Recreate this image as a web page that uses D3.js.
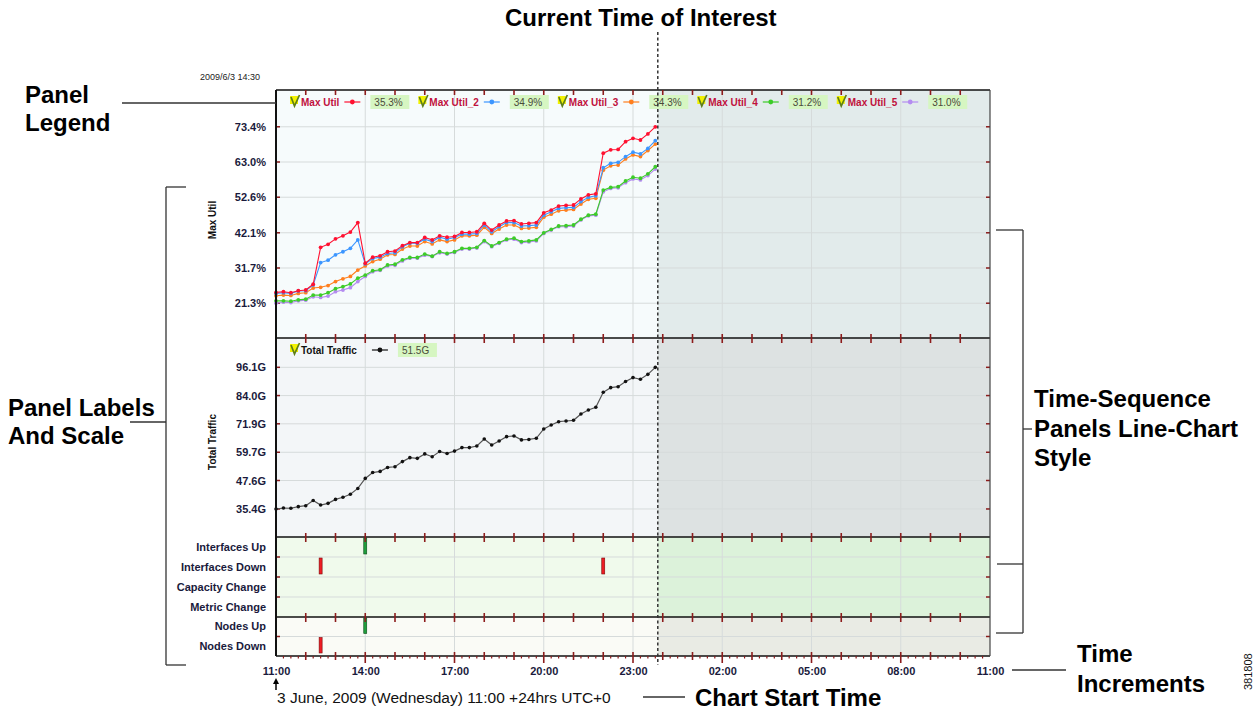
<!DOCTYPE html>
<html>
<head>
<meta charset="utf-8">
<script src="https://cdn.jsdelivr.net/npm/d3@7"></script>
<style>
  body { margin: 0; background: #fff; }
  svg { display: block; font-family: "Liberation Sans", Arial, sans-serif; }
</style>
</head>
<body>
<svg id="chart" width="1259" height="714"></svg>
<script>
// ==================== data ====================
const seriesNames = ['Max Util', 'Max Util_2', 'Max Util_3', 'Max Util_4', 'Max Util_5'];
const seriesColors = ['#ff1030', '#3c96ff', '#ff7f1e', '#3ccc28', '#b48cf0'];
const legendValues = ['35.3%', '34.9%', '34.3%', '31.2%', '31.0%'];

// one sample every 15 minutes from 11:00
const maxUtil = [24.5,24.7,24.4,25.0,25.2,26.9,37.8,38.7,40.3,41.2,42.3,45.1,33.1,34.9,35.3,36.5,36.7,38.3,39.2,39.2,40.7,40.0,41.2,40.8,41.0,42.2,42.2,42.4,44.9,42.9,44.4,45.6,45.7,44.7,44.9,45.1,48.0,48.8,50.0,50.2,50.3,52.1,53.3,53.6,65.6,66.6,66.7,69.0,70.0,69.5,71.3,73.4];
const maxUtil2 = [24.2,24.4,24.2,24.9,25.0,26.7,33.3,34.0,35.6,36.5,37.5,40.0,32.9,34.5,34.9,36.0,36.2,38.0,39.0,39.0,40.2,39.5,40.8,40.2,40.7,41.7,41.7,41.9,44.4,42.4,43.9,45.1,45.1,44.1,44.2,44.4,47.3,48.3,49.3,49.5,49.6,51.3,52.6,53.0,61.3,62.6,62.9,64.6,65.9,65.4,67.0,69.3];
const maxUtil3 = [23.5,23.7,23.6,24.2,24.4,25.8,26.0,26.5,27.7,28.5,29.2,31.1,32.3,33.6,34.3,35.6,35.7,37.3,38.2,38.2,39.5,38.8,40.0,39.5,40.0,41.2,41.2,41.4,43.7,41.9,43.2,44.4,44.4,43.4,43.5,43.7,46.7,47.6,48.6,48.8,49.0,50.6,52.0,52.3,60.6,61.9,62.1,63.9,65.1,64.6,66.4,68.3];
const maxUtil4 = [22.0,22.0,21.9,22.3,22.5,23.7,23.7,24.4,25.6,26.2,27.0,28.7,29.6,30.9,31.2,32.6,32.8,34.1,34.8,34.8,35.8,35.2,36.5,36.0,36.5,37.5,37.5,37.8,39.8,38.2,39.2,40.2,40.5,39.5,39.7,40.0,42.1,43.1,44.1,44.2,44.4,46.1,47.3,47.6,54.7,55.5,55.7,57.4,58.5,58.2,59.5,61.6];
const maxUtil5 = [21.3,21.6,21.5,22.0,22.2,23.2,23.0,23.4,24.7,25.2,25.9,27.7,29.2,30.6,31.0,32.3,32.5,33.8,34.6,34.6,35.5,35.1,36.2,35.8,36.3,37.3,37.3,37.6,39.5,38.0,39.0,40.0,40.2,39.2,39.4,39.7,41.9,42.9,43.9,43.9,44.1,45.9,47.1,47.3,54.2,55.2,55.4,56.9,58.0,57.7,59.0,60.9];
const totalTraffic = [35.4,35.8,35.7,36.4,36.8,39.0,37.1,37.8,39.5,40.4,41.7,44.2,48.5,51.0,51.5,53.2,53.5,55.7,57.4,57.1,59.0,57.8,60.0,59.2,60.2,61.7,61.7,62.4,65.4,62.8,64.5,66.4,66.7,65.0,65.2,65.7,69.7,71.4,72.8,73.1,73.4,76.1,77.8,79.0,85.4,87.4,87.8,90.0,91.7,91.0,93.1,96.1];

const utilTicks = [21.3, 31.7, 42.1, 52.6, 63.0, 73.4];
const trafficTicks = [35.4, 47.6, 59.7, 71.9, 84.0, 96.1];

const eventRows = ['Interfaces Up', 'Interfaces Down', 'Capacity Change', 'Metric Change'];
const nodeRows = ['Nodes Up', 'Nodes Down'];
// [row, time]
const eventMarks = [['Interfaces Up', '14:00'], ['Interfaces Down', '12:30'], ['Interfaces Down', '22:00']];
const nodeMarks = [['Nodes Up', '14:00'], ['Nodes Down', '12:30']];
const upRows = ['Interfaces Up', 'Nodes Up'];

const chartStart = new Date(Date.UTC(2009, 5, 3, 11, 0));
const chartEnd = new Date(Date.UTC(2009, 5, 4, 11, 0));
const currentTime = new Date(Date.UTC(2009, 5, 3, 23, 50));
const times = maxUtil.map((_, i) => d3.utcMinute.offset(chartStart, 15 * i));
const parseT = s => { const [h, m] = s.split(':').map(Number); return new Date(Date.UTC(2009, 5, 3, h, m)); };

// ==================== layout ====================
const svg = d3.select('#chart');
const X0 = 276, X1 = 990;
const P1 = [90, 338], P2 = [338, 537], P3 = [537, 617], P4 = [617, 656];
const tickRed = '#8c1c1c';
const navy = '#1a1a3c';
const gridCol = '#d6dbdb';

const x = d3.scaleTime().domain([chartStart, chartEnd]).range([X0, X1]);
const yUtil = d3.scaleLinear().domain([10.88, 83.82]).range([338.5, 91.5]);
const yTraffic = d3.scaleLinear().domain([23.26, 108.24]).range([537.3, 339]);
const yEvents = d3.scaleBand().domain(eventRows).range(P3);
const yNodes = d3.scaleBand().domain(nodeRows).range(P4);

const xNow = x(currentTime);

// hour marks, counted from the chart start (labels every 3 hours)
const allHours = d3.utcHour.range(chartStart, d3.utcHour.offset(chartEnd, 1));
const labelHours = allHours.filter((d, i) => i % 3 === 0);
const innerHours = allHours.filter(d => d > chartStart && d < chartEnd);
const innerLabelHours = labelHours.filter(d => d > chartStart && d < chartEnd);

// ==================== backgrounds ====================
const bgs = [
  [P1, '#f6fbfc', '#e2ebeb'],
  [P2, '#f3f6f8', '#dde2e2'],
  [P3, '#f0faec', '#dcf2da'],
  [P4, '#fafbf6', '#e9ebe4']
];
const bg = svg.append('g');
bgs.forEach(([p, c1, c2]) => {
  bg.append('rect').attr('x', X0).attr('y', p[0]).attr('width', xNow - X0).attr('height', p[1] - p[0]).attr('fill', c1);
  bg.append('rect').attr('x', xNow).attr('y', p[0]).attr('width', X1 - xNow).attr('height', p[1] - p[0]).attr('fill', c2);
});

// ==================== grids ====================
const grid = svg.append('g').attr('stroke', gridCol).attr('stroke-width', 1);
grid.selectAll('.vg').data(innerLabelHours).enter().append('line')
  .attr('x1', d => x(d)).attr('x2', d => x(d)).attr('y1', P1[0]).attr('y2', P4[1]);

const hLines = [
  ...utilTicks.map(v => yUtil(v)),
  ...trafficTicks.map(v => yTraffic(v)),
  ...eventRows.slice(1).map(r => yEvents(r)),
  ...nodeRows.slice(1).map(r => yNodes(r))
];
grid.selectAll('.hg').data(hLines).enter().append('line')
  .attr('x1', X0).attr('x2', X1).attr('y1', d => d).attr('y2', d => d);

// side ticks (dark red) at every horizontal gridline
const side = svg.append('g').attr('stroke', tickRed).attr('stroke-width', 1.5);
side.selectAll('.lt').data(hLines).enter().append('line')
  .attr('x1', X0).attr('x2', X0 + 4).attr('y1', d => d).attr('y2', d => d);
side.selectAll('.rt').data(hLines).enter().append('line')
  .attr('x1', X1 - 4).attr('x2', X1).attr('y1', d => d).attr('y2', d => d);

// ==================== series ====================
const utilSeries = [maxUtil, maxUtil2, maxUtil3, maxUtil4, maxUtil5];
const lineUtil = d3.line().x((d, i) => x(times[i])).y(d => yUtil(d));
const plot = svg.append('g');
utilSeries.slice().reverse().forEach((vals, ri) => {
  const col = seriesColors[utilSeries.length - 1 - ri];
  plot.append('path').datum(vals).attr('d', lineUtil)
    .attr('fill', 'none').attr('stroke', col).attr('stroke-width', 1.1);
  plot.append('g').selectAll('circle').data(vals).enter().append('circle')
    .attr('cx', (d, i) => x(times[i])).attr('cy', d => yUtil(d)).attr('r', 1.9).attr('fill', col);
});

const lineTraffic = d3.line().x((d, i) => x(times[i])).y(d => yTraffic(d));
plot.append('path').datum(totalTraffic).attr('d', lineTraffic)
  .attr('fill', 'none').attr('stroke', '#555').attr('stroke-width', 1.2);
plot.append('g').selectAll('circle').data(totalTraffic).enter().append('circle')
  .attr('cx', (d, i) => x(times[i])).attr('cy', d => yTraffic(d)).attr('r', 1.8).attr('fill', '#111');

// event bars
function drawMarks(marks, band) {
  plot.append('g').selectAll('rect').data(marks).enter().append('rect')
    .attr('x', d => x(parseT(d[1])) - 1.5)
    .attr('y', d => band(d[0]) + 1)
    .attr('width', 3)
    .attr('height', band.bandwidth() - 4)
    .attr('fill', d => upRows.includes(d[0]) ? '#1f9e3c' : '#ee1c24')
    .attr('stroke', d => upRows.includes(d[0]) ? '#0c4a18' : '#7a0a0a')
    .attr('stroke-width', 0.6);
}
drawMarks(eventMarks, yEvents);
drawMarks(nodeMarks, yNodes);

// ==================== frame & hour ticks ====================
const frame = svg.append('g');
[P1[0], P2[0], P3[0], P4[0], P4[1]].forEach(yy => {
  frame.append('line').attr('x1', X0).attr('x2', X1).attr('y1', yy).attr('y2', yy)
    .attr('stroke', '#111').attr('stroke-width', 1.5);
});
frame.append('line').attr('x1', X0).attr('x2', X0).attr('y1', P1[0]).attr('y2', P4[1])
  .attr('stroke', '#111').attr('stroke-width', 2);
frame.append('line').attr('x1', X1).attr('x2', X1).attr('y1', P1[0]).attr('y2', P4[1])
  .attr('stroke', '#444').attr('stroke-width', 1.2);

const hticks = svg.append('g').attr('stroke', tickRed).attr('stroke-width', 1.6);
[[P1[0], 0, 5], [P2[0], -4, 5], [P3[0], -4, 5], [P4[0], -4, 5]].forEach(([yy, a, b]) => {
  hticks.selectAll(null).data(innerHours).enter().append('line')
    .attr('x1', d => x(d)).attr('x2', d => x(d)).attr('y1', yy + a).attr('y2', yy + b);
});

// bottom time axis: quarter-hour minor ticks, hourly ticks, longer ticks at labels
const quarters = d3.utcMinute.every(15).range(chartStart, chartEnd).filter(d => d > chartStart);
const isLabelHour = d => labelHours.some(h => +h === +d);
svg.append('g').selectAll('line').data(quarters).enter().append('line')
  .attr('x1', d => x(d)).attr('x2', d => x(d))
  .attr('y1', d => d.getUTCMinutes() === 0 ? P4[1] - 4 : P4[1])
  .attr('y2', d => d.getUTCMinutes() === 0 ? (isLabelHour(d) ? P4[1] + 7 : P4[1] + 4) : P4[1] + 2.5)
  .attr('stroke', tickRed).attr('stroke-width', d => d.getUTCMinutes() === 0 ? 1.6 : 1.2);

const xAxis = d3.axisBottom(x).tickValues(labelHours).tickFormat(d3.utcFormat('%H:%M')).tickSize(0).tickPadding(11);
const xa = svg.append('g').attr('transform', `translate(0,${P4[1]})`).call(xAxis);
xa.select('.domain').remove();
xa.selectAll('text').attr('font-family', '"Liberation Sans", Arial, sans-serif')
  .attr('font-size', 11).attr('font-weight', 'bold').attr('fill', navy);

// ==================== y axes ====================
function yAxisText(scale, ticks, fmt) {
  const ax = d3.axisLeft(scale).tickValues(ticks).tickFormat(fmt).tickSize(0).tickPadding(10);
  const g = svg.append('g').attr('transform', `translate(${X0},0)`).call(ax);
  g.select('.domain').remove();
  g.selectAll('text').attr('font-family', '"Liberation Sans", Arial, sans-serif')
    .attr('font-size', 11).attr('font-weight', 'bold').attr('fill', navy);
}
yAxisText(yUtil, utilTicks, d => d3.format('.1f')(d) + '%');
yAxisText(yTraffic, trafficTicks, d => d3.format('.1f')(d) + 'G');

function rowAxis(band) {
  const ax = d3.axisLeft(band).tickSize(0).tickPadding(10);
  const g = svg.append('g').attr('transform', `translate(${X0},0)`).call(ax);
  g.select('.domain').remove();
  g.selectAll('text').attr('font-family', '"Liberation Sans", Arial, sans-serif')
    .attr('font-size', 11).attr('font-weight', 'bold').attr('fill', navy);
}
rowAxis(yEvents);
rowAxis(yNodes);

svg.append('text').attr('transform', 'translate(216,220) rotate(-90)').attr('text-anchor', 'middle')
  .attr('font-size', 10).attr('font-weight', 'bold').attr('fill', '#111').text('Max Util');
svg.append('text').attr('transform', 'translate(216,442) rotate(-90)').attr('text-anchor', 'middle')
  .attr('font-size', 10).attr('font-weight', 'bold').attr('fill', '#111').text('Total Traffic');

svg.append('text').attr('x', 200).attr('y', 80).attr('font-size', 9).attr('fill', '#222').text('2009/6/3 14:30');

// ==================== legends ====================
function drawLegend(items, cy, textColor, gap) {
  const g = svg.append('g');
  let lx = 290;
  items.forEach(it => {
    g.append('rect').attr('x', lx).attr('y', cy - 6).attr('width', 8).attr('height', 8).attr('fill', '#f2f200');
    g.append('path').attr('d', `M${lx + 1},${cy - 5} L${lx + 4.5},${cy + 4} L${lx + 9.5},${cy - 7}`)
      .attr('fill', 'none').attr('stroke', '#5f7f18').attr('stroke-width', 1.7);
    const t = g.append('text').attr('x', lx + 11).attr('y', cy + 4)
      .attr('font-size', 10).attr('font-weight', 'bold').attr('fill', textColor).text(it.name);
    const sx = lx + 11 + t.node().getComputedTextLength() + gap;
    g.append('line').attr('x1', sx).attr('x2', sx + 16).attr('y1', cy).attr('y2', cy)
      .attr('stroke', it.color).attr('stroke-width', 1.2);
    g.append('circle').attr('cx', sx + 8).attr('cy', cy).attr('r', 2.4).attr('fill', it.color);
    const bx = sx + 26;
    g.append('rect').attr('x', bx).attr('y', cy - 7).attr('width', 39).attr('height', 14).attr('fill', '#d6f6c2');
    g.append('text').attr('x', bx + 4).attr('y', cy + 4).attr('font-size', 10).attr('fill', '#4a4a3a').text(it.value);
    lx = bx + 48;
  });
}
drawLegend(seriesNames.map((n, i) => ({ name: n, color: seriesColors[i], value: legendValues[i] })), 102, '#c0103c', 5);
drawLegend([{ name: 'Total Traffic', color: '#111', value: '51.5G' }], 350, '#111', 15);

// ==================== current time line ====================
svg.append('line').attr('x1', xNow).attr('x2', xNow).attr('y1', 32).attr('y2', P4[1] + 9)
  .attr('stroke', '#333').attr('stroke-width', 1.5).attr('stroke-dasharray', '3,2.5');

// ==================== annotations ====================
const ann = svg.append('g').attr('font-family', '"Liberation Sans", Arial, sans-serif')
  .attr('font-weight', 'bold').attr('font-size', 24).attr('fill', '#000');
const bline = (x1, y1, x2, y2) => svg.append('line').attr('x1', x1).attr('y1', y1).attr('x2', x2).attr('y2', y2)
  .attr('stroke', '#333').attr('stroke-width', 1.3);

ann.append('text').attr('x', xNow - 17).attr('y', 26).attr('text-anchor', 'middle').text('Current Time of Interest');

ann.append('text').attr('x', 25).attr('y', 103).text('Panel');
ann.append('text').attr('x', 25).attr('y', 131).text('Legend');
bline(122, 103, X0, 103);

ann.append('text').attr('x', 8).attr('y', 416).text('Panel Labels');
ann.append('text').attr('x', 8).attr('y', 444).text('And Scale');
bline(166, 187, 186, 187);
bline(166, 187, 166, 665);
bline(166, 665, 186, 665);
bline(130, 422, 166, 422);

ann.append('text').attr('x', 1034).attr('y', 407).text('Time-Sequence');
ann.append('text').attr('x', 1034).attr('y', 437).text('Panels Line-Chart');
ann.append('text').attr('x', 1034).attr('y', 466).text('Style');
bline(996, 230, 1023, 230);
bline(1023, 230, 1023, 633);
bline(996, 633, 1023, 633);
bline(997, 564, 1023, 564);
bline(1023, 429, 1032, 429);

ann.append('text').attr('x', 1077).attr('y', 662).text('Time');
ann.append('text').attr('x', 1077).attr('y', 692).text('Increments');
bline(1012, 670, 1066, 670);

ann.append('text').attr('x', 695).attr('y', 706).text('Chart Start Time');
bline(643, 697, 685, 697);

svg.append('text').attr('x', 277).attr('y', 703).attr('font-size', 15.5).attr('fill', '#111')
  .text('3 June, 2009 (Wednesday) 11:00 +24hrs UTC+0');
// start arrow
svg.append('line').attr('x1', X0).attr('x2', X0).attr('y1', 690).attr('y2', 681).attr('stroke', '#000').attr('stroke-width', 1.5);
svg.append('path').attr('d', `M${X0 - 3},${684} L${X0},${678} L${X0 + 3},${684} Z`).attr('fill', '#000');

svg.append('text').attr('transform', 'translate(1252,690) rotate(-90)').attr('font-size', 11).attr('fill', '#111').text('381808');
</script>
</body>
</html>
